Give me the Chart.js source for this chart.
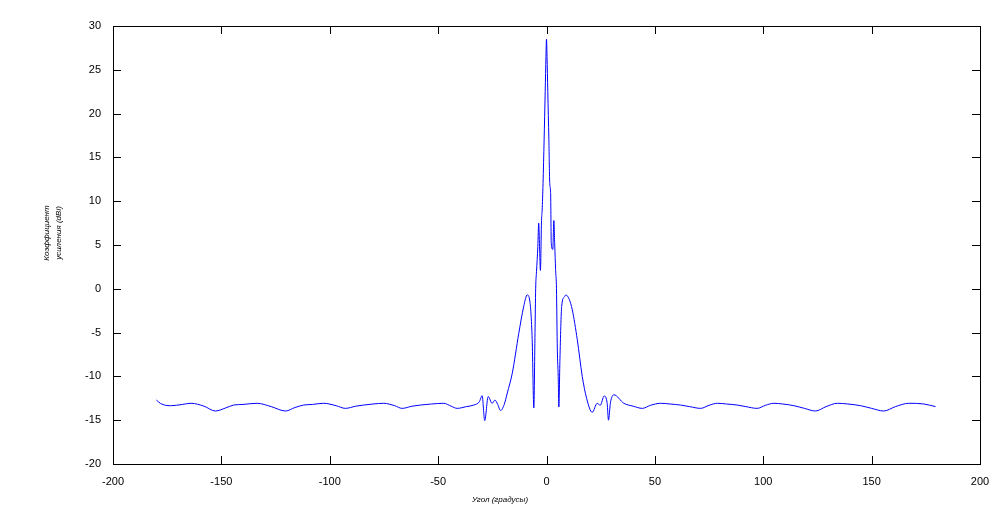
<!DOCTYPE html>
<html>
<head>
<meta charset="utf-8">
<script src="https://cdn.jsdelivr.net/npm/chart.js@4/dist/chart.umd.min.js"></script>
<style>
  html, body { margin: 0; padding: 0; background: #fff; }
  #wrap { position: relative; width: 1000px; height: 510px; }
</style>
</head>
<body>
<div id="wrap"><canvas id="c" width="1000" height="510"></canvas></div>
<script>
// angle (degrees) and gain (dBi)
const angles = [
  -180, -178, -173.5, -168, -164, -158, -152.8, -148, -144.3, -140,
  -133.5, -127, -120.4, -116, -112, -108, -102.8, -97, -92.8, -88,
  -84.3, -80, -75.1, -70, -66.6, -62, -58.1, -53, -47.4, -44,
  -41.2, -37, -33.5, -31, -29.7, -28.5, -26.9, -25.1, -23.8, -22.5,
  -21.2, -19.5, -18.1, -15.8, -12.8, -10.5, -8.9, -7.7, -6.6, -5.85,
  -5.3, -5.0, -4.6, -4.0, -3.6, -3.2, -2.8, -2.3, -2.0, -1.6,
  -1.1, -0.6, -0.25, 0, 0.25, 0.6, 1.1, 1.5, 1.9, 2.2,
  2.9, 3.4, 3.8, 4.2, 4.6, 5.0, 5.4, 5.7, 6.2, 7.0,
  8.3, 8.9, 10.5, 11.9, 14.2, 16.5, 18.5, 21.1, 23.4, 24.8,
  26.6, 28, 28.6, 29.5, 31.1, 35.7, 40, 44.2, 48, 52.6,
  57, 61.8, 66, 71.1, 75, 78.8, 83, 88, 92, 97.2,
  101, 104.9, 109, 114.1, 119, 124.1, 129, 134.2, 139, 144.9,
  150, 155.6, 161, 167.2, 174.1, 179.5
];
const gain = [
  -12.7, -13.1, -13.35, -13.2, -13.07, -13.4, -13.95, -13.6, -13.27, -13.2,
  -13.07, -13.45, -13.95, -13.55, -13.27, -13.2, -13.07, -13.35, -13.65, -13.4,
  -13.27, -13.15, -13.07, -13.35, -13.65, -13.4, -13.27, -13.15, -13.07, -13.4,
  -13.65, -13.45, -13.27, -12.9, -12.2, -15.05, -12.3, -13.07, -12.7, -13.2,
  -13.9, -13.2, -11.9, -9.65, -5.1, -2.0, -0.7, -1.4, -5.8, -13.6,
  -5, 0, 2, 4.8, 7.5, 4.8, 2.1, 7.8, 9, 12,
  17, 22.5, 26.5, 28.5, 26.5, 22.5, 17, 12, 11, 5.2,
  4.5, 7.8, 5, 2.2, 0, -7, -10, -13.5, -8, -2,
  -0.9, -0.7, -1.2, -2.4, -5.8, -10, -12.5, -14.1, -13.07, -13.3,
  -12.24, -13.1, -15.0, -13.0, -12.1, -13.07, -13.4, -13.65, -13.3, -13.07,
  -13.15, -13.27, -13.45, -13.65, -13.3, -13.07, -13.15, -13.27, -13.45, -13.65,
  -13.3, -13.07, -13.15, -13.34, -13.65, -13.95, -13.45, -13.07, -13.15, -13.34,
  -13.65, -13.95, -13.45, -13.07, -13.15, -13.45
];
const xTicks = [-200, -150, -100, -50, 0, 50, 100, 150, 200];
const yTicks = [-20, -15, -10, -5, 0, 5, 10, 15, 20, 25, 30];
const xTitle = 'Угол (градусы)';
const yTitle = ['Коэффициент', 'усиления (dBi)'];

const points = angles.map((a, i) => ({ x: a, y: gain[i] }));

// matlab-ish box with inward ticks + axis titles
const boxPlugin = {
  id: 'box',
  afterDraw(chart) {
    const { ctx, chartArea: a, scales } = chart;
    ctx.save();
    ctx.strokeStyle = '#000';
    ctx.lineWidth = 1;
    ctx.strokeRect(Math.round(a.left) + 0.5, Math.round(a.top) + 0.5,
      Math.round(a.right - a.left), Math.round(a.bottom - a.top));
    const len = 8;
    ctx.beginPath();
    xTicks.forEach(v => {
      const px = Math.round(scales.x.getPixelForValue(v)) + 0.5;
      ctx.moveTo(px, a.bottom); ctx.lineTo(px, a.bottom - len);
      ctx.moveTo(px, a.top); ctx.lineTo(px, a.top + len);
    });
    yTicks.forEach(v => {
      const py = Math.round(scales.y.getPixelForValue(v)) + 0.5;
      ctx.moveTo(a.left, py); ctx.lineTo(a.left + len, py);
      ctx.moveTo(a.right, py); ctx.lineTo(a.right - len, py);
    });
    ctx.stroke();

    ctx.fillStyle = '#000';
    ctx.font = 'italic 8px "Liberation Sans", Arial, sans-serif';
    ctx.textAlign = 'center';
    ctx.textBaseline = 'middle';
    ctx.fillText(xTitle, 500, 500);
    ctx.translate(53, 233);
    ctx.rotate(-Math.PI / 2);
    ctx.fillText(yTitle[0], 0, -6);
    ctx.fillText(yTitle[1], 0, 6);
    ctx.restore();
  }
};

new Chart(document.getElementById('c'), {
  type: 'line',
  data: {
    datasets: [{
      data: points,
      borderColor: '#0000ff',
      borderWidth: 1,
      pointRadius: 0,
      fill: false,
      cubicInterpolationMode: 'monotone'
    }]
  },
  options: {
    responsive: false,
    animation: false,
    layout: { padding: { top: 26, right: 20, left: 0, bottom: 0 } },
    plugins: { legend: { display: false }, tooltip: { enabled: false } },
    scales: {
      x: {
        type: 'linear', min: -200, max: 200,
        grid: { display: false }, border: { display: false },
        afterBuildTicks: s => { s.ticks = xTicks.map(v => ({ value: v })); },
        afterFit: s => { s.height = 46; },
        ticks: { color: '#000', padding: 3, maxRotation: 0, font: { size: 11, family: '"Liberation Sans", Arial, sans-serif' } }
      },
      y: {
        min: -20, max: 30,
        grid: { display: false }, border: { display: false },
        afterBuildTicks: s => { s.ticks = yTicks.map(v => ({ value: v })); },
        afterFit: s => { s.width = 113; },
        ticks: { color: '#000', padding: 4, font: { size: 11, family: '"Liberation Sans", Arial, sans-serif' } }
      }
    }
  },
  plugins: [boxPlugin]
});
</script>
</body>
</html>
